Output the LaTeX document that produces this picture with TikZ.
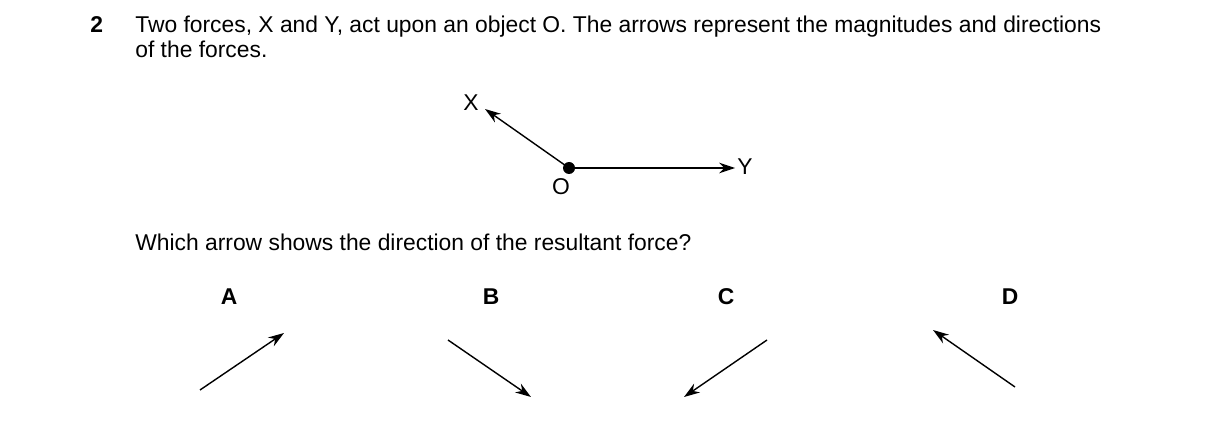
\documentclass[tikz,border=0pt]{standalone}
\usepackage{fontspec}
\setmainfont{Liberation Sans}
\usetikzlibrary{arrows.meta}

\begin{document}
\begin{tikzpicture}[x=0.02cm,y=-0.02cm,
	force/.style={thick,-{Stealth[length=9pt,width=6pt]}},
	txt/.style={anchor=base west,inner sep=0pt,font=\fontsize{13}{15}\selectfont},
	lbl/.style={inner sep=0pt,font=\fontsize{13}{15}\selectfont},
	opt/.style={inner sep=0pt,font=\bfseries\fontsize{13}{15}\selectfont}]
	\useasboundingbox (0,0) rectangle (1216,422);
	
	%question text
	\node[txt,font=\bfseries\fontsize{13}{15}\selectfont] (num) at (90,33) {2};
	\node[txt] (line1) at (135,33) {Two forces, X and Y, act upon an object O. The arrows represent the magnitudes and directions};
	\node[txt] (line2) at (135,58) {of the forces.};
	
	%forces
	\coordinate (O) at (569,168);
	\coordinate (Xend) at (485,109);
	\coordinate (Yend) at (735,168);
	\draw[force] (O)--(Xend);
	\draw[force] (O)--(Yend);
	\fill (O) circle (6);
	\node[lbl] (X) at (471,103) {X};
	\node[lbl] (Y) at (745,167) {Y};
	\node[lbl] (Olbl) at (561,187) {O};
	
	\node[txt] (ask) at (135,250) {Which arrow shows the direction of the resultant force?};
	
	%options
	\node[opt] (A) at (229,297) {A};
	\node[opt] (B) at (491,297) {B};
	\node[opt] (C) at (726,297) {C};
	\node[opt] (D) at (1010,297) {D};
	\coordinate (a1) at (200,390); \coordinate (a2) at (284,333);
	\coordinate (b1) at (448,340); \coordinate (b2) at (531,397);
	\coordinate (c1) at (767,340); \coordinate (c2) at (684,397);
	\coordinate (d1) at (1015,387); \coordinate (d2) at (933,330);
	\draw[force] (a1)--(a2);
	\draw[force] (b1)--(b2);
	\draw[force] (c1)--(c2);
	\draw[force] (d1)--(d2);
\end{tikzpicture}
\end{document}
